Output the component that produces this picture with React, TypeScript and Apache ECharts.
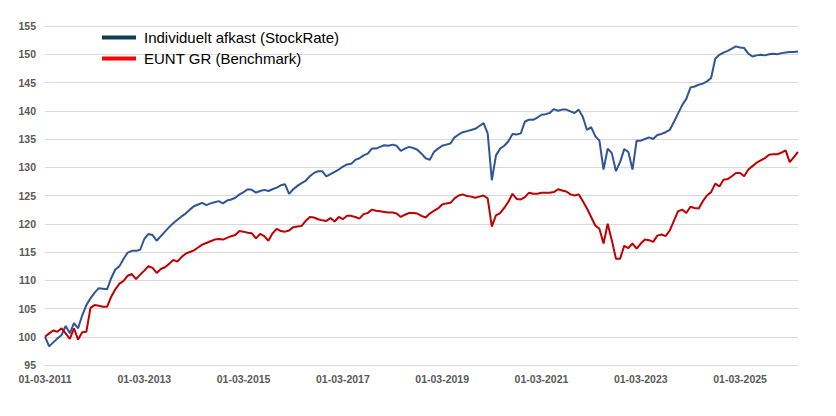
import React, { useEffect, useRef } from "react";
import * as echarts from "echarts";

const START_YEAR = 2011;
const START_MONTH = 3;
const seriesNames = ["Individuelt afkast (StockRate)", "EUNT GR (Benchmark)"];

const stockRate = [
  100.0, 98.3, 99.0, 99.7, 100.3, 101.9, 100.6, 102.4, 101.5, 103.8,
  105.6, 106.8, 107.8, 108.6, 108.5, 108.4, 110.4, 111.9, 112.5, 113.8,
  114.9, 115.2, 115.2, 115.4, 117.3, 118.2, 118.0, 117.0, 117.8, 118.6,
  119.4, 120.1, 120.7, 121.3, 121.8, 122.5, 123.1, 123.4, 123.7, 123.3,
  123.6, 123.8, 124.0, 123.6, 124.1, 124.3, 124.6, 125.2, 125.6, 126.1,
  126.0, 125.5, 125.8, 126.0, 125.8, 126.1, 126.4, 126.8, 127.0, 125.3,
  126.1, 126.7, 127.2, 127.6, 128.4, 129.0, 129.3, 129.3, 128.4, 128.8,
  129.2, 129.6, 130.1, 130.5, 130.6, 131.3, 131.6, 132.1, 132.4, 133.3,
  133.3, 133.6, 133.9, 133.8, 134.0, 133.8, 132.9, 133.3, 133.6, 133.4,
  133.1, 132.4, 131.6, 131.3, 132.7, 133.3, 133.8, 134.0, 134.2, 135.3,
  135.8, 136.2, 136.4, 136.6, 136.8, 137.3, 137.8, 136.0, 127.7, 132.1,
  133.3, 133.8, 134.6, 135.9, 135.8, 136.0, 138.1, 138.4, 138.4, 138.8,
  139.3, 139.4, 139.6, 140.3, 140.0, 140.2, 140.2, 139.9, 139.6, 140.2,
  138.9, 136.6, 137.1, 135.5, 134.7, 129.6, 133.3, 132.5, 129.3, 130.9,
  133.2, 132.7, 129.6, 134.7, 134.7, 135.0, 135.3, 135.0, 135.7, 135.9,
  136.2, 136.6, 138.0, 139.5, 141.0, 142.1, 144.1, 144.3, 144.6, 144.8,
  145.2, 145.8, 149.2, 149.9, 150.3, 150.6, 151.0, 151.4, 151.2, 151.1,
  150.1, 149.6, 149.8, 149.9, 149.8, 150.0, 150.1, 150.0, 150.2, 150.3,
  150.4, 150.4, 150.5,
];

const benchmark = [
  100.0, 100.6, 101.1, 100.9, 101.5, 100.6, 99.6, 101.5, 99.5, 100.8,
  100.9, 105.1, 105.6, 105.5, 105.3, 105.3, 107.1, 108.4, 109.4, 109.9,
  110.8, 111.1, 110.2, 111.0, 111.7, 112.5, 112.2, 111.3, 112.0, 112.3,
  112.9, 113.6, 113.3, 114.1, 114.7, 115.0, 115.3, 115.8, 116.3, 116.6,
  116.9, 117.2, 117.3, 117.2, 117.5, 117.8, 118.0, 118.7, 118.6, 118.4,
  118.3, 117.4, 118.2, 117.8, 117.0, 118.3, 119.1, 118.7, 118.6, 118.8,
  119.4, 119.5, 119.6, 120.5, 121.2, 121.1, 120.8, 120.6, 120.5, 121.0,
  120.4, 121.2, 120.8, 121.4, 121.4, 121.2, 120.9, 121.7, 121.9, 122.5,
  122.3, 122.2, 122.1, 122.0, 122.0, 121.8, 121.2, 121.6, 121.9, 121.9,
  121.8, 121.4, 121.1, 121.8, 122.3, 122.7, 123.4, 123.6, 123.7, 124.5,
  125.0, 125.2, 124.9, 124.8, 124.6, 124.8, 125.0, 124.5, 119.5, 121.5,
  121.9, 122.8, 123.9, 125.3, 124.4, 124.3, 124.7, 125.5, 125.3, 125.3,
  125.5, 125.5, 125.5, 125.6, 126.1, 125.9, 125.7, 125.2, 125.0, 125.2,
  124.0, 122.7, 121.2, 119.7, 119.1, 116.5, 120.0, 117.1, 113.8, 113.8,
  116.1, 115.7, 116.5, 115.6, 116.5, 117.2, 117.1, 116.8, 117.9, 118.1,
  117.8, 118.8, 120.5, 122.2, 122.5, 121.9, 123.0, 122.8, 122.7, 124.0,
  125.0, 125.6, 127.1, 126.6, 127.8, 127.9, 128.4, 129.0, 129.0, 128.4,
  129.6, 130.2, 130.8, 131.2, 131.6, 132.2, 132.3, 132.3, 132.6, 133.0,
  130.9, 131.8, 132.7,
];

const pad = (n: number) => (n < 10 ? "0" + n : "" + n);
const dates: string[] = stockRate.map((_, i) => {
  const m0 = START_MONTH - 1 + i;
  const y = START_YEAR + Math.floor(m0 / 12);
  const m = (m0 % 12) + 1;
  return "01-" + pad(m) + "-" + y;
});

const FONT = "'Liberation Sans', Arial, sans-serif";

export default function App() {
  const ref = useRef<HTMLDivElement>(null);
  useEffect(() => {
    if (!ref.current) return;
    const chart = echarts.init(ref.current, undefined, { renderer: "svg" });
    chart.setOption({
      animation: false,
      backgroundColor: "#ffffff",
      grid: { left: 45, right: 38, top: 26, bottom: 51, containLabel: false },
      legend: {
        orient: "vertical",
        left: 102,
        top: 30,
        padding: 0,
        itemWidth: 34,
        itemHeight: 4,
        itemGap: 6,
        icon: "rect",
        textStyle: { fontFamily: FONT, fontSize: 15, color: "#000", padding: [0, 0, 0, 3] },
        data: [
          { name: seriesNames[0], itemStyle: { color: "#0f3d55" } },
          { name: seriesNames[1], itemStyle: { color: "#ff0000" } },
        ],
      },
      xAxis: {
        type: "category",
        data: dates,
        boundaryGap: false,
        axisLine: { show: false },
        axisTick: { show: false },
        axisLabel: {
          interval: 23,
          fontFamily: FONT,
          fontSize: 10.5,
          fontWeight: "bold",
          color: "#595959",
          margin: 8,
        },
        splitLine: { show: false },
      },
      yAxis: {
        type: "value",
        min: 95,
        max: 155,
        interval: 5,
        axisLine: { show: false },
        axisTick: { show: false },
        axisLabel: {
          fontFamily: FONT,
          fontSize: 10.5,
          fontWeight: "bold",
          color: "#595959",
          margin: 9,
        },
        splitLine: { lineStyle: { color: "#d9d9d9", width: 1 } },
      },
      series: [
        {
          name: seriesNames[0],
          type: "line",
          data: stockRate,
          showSymbol: false,
          symbol: "none",
          lineStyle: { color: "#2f5597", width: 2 },
          itemStyle: { color: "#2f5597" },
        },
        {
          name: seriesNames[1],
          type: "line",
          data: benchmark,
          showSymbol: false,
          symbol: "none",
          lineStyle: { color: "#c00000", width: 2 },
          itemStyle: { color: "#c00000" },
        },
      ],
    });
    return () => chart.dispose();
  }, []);
  return <div ref={ref} style={{ width: 836, height: 416, position: "absolute", left: 0, top: 0 }} />;
}
